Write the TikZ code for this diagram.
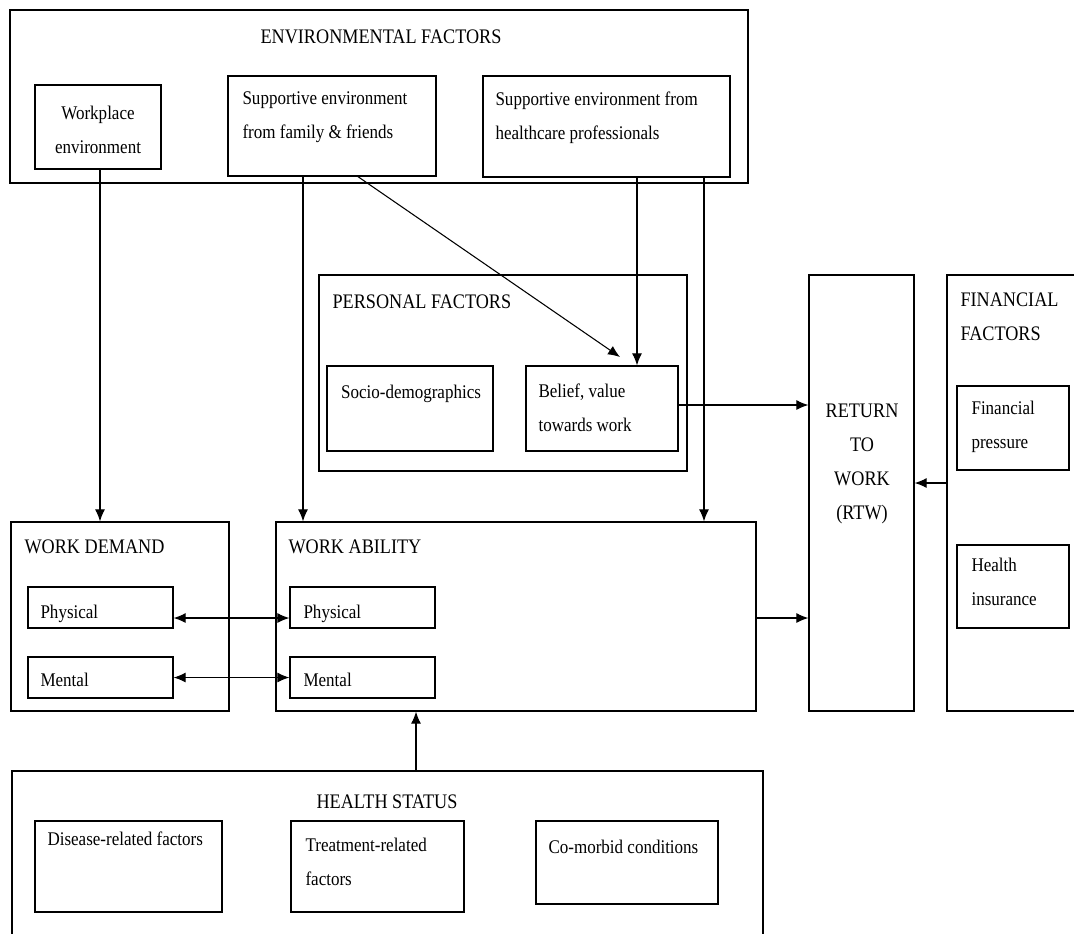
\documentclass[tikz,border=0pt]{standalone}
\usepackage{fontspec}
\setmainfont{Liberation Serif}[FakeStretch=0.88]
\usetikzlibrary{arrows.meta,fit}

\begin{document}
\begin{tikzpicture}[x=0.75pt,y=-0.75pt,
  >={Latex[length=9pt,width=7.5pt]},
  every path/.style={line width=0.8pt},
  box/.style={draw,line width=1pt,inner sep=0pt},
  txt/.style={inner sep=0pt,font=\fontsize{14.5}{25.5}\selectfont},
  ttl/.style={inner sep=0pt,font=\fontsize{15.5}{25.5}\selectfont}]
\useasboundingbox (0,0) rectangle (1074,933);

% environmental factors
\node[box,fit={(10,10) (748,183)}] (env) {};
\node[box,fit={(35,85) (161,169)}] (wpl) {};
\node[box,fit={(228,76) (436,176)}] (fam) {};
\node[box,fit={(483,76) (730,177)}] (hcp) {};
\node[ttl] (envt) at (381,37) {ENVIRONMENTAL FACTORS};
\node[txt,align=center] (wplt) at (98,130) {Workplace\\environment};
\node[txt,align=left,anchor=north west] (famt) at (242,91) {Supportive environment\\from family \& friends};
\node[txt,align=left,anchor=north west] (hcpt) at (495,91) {Supportive environment from\\healthcare professionals};

% personal factors
\node[box,fit={(319,275) (687,471)}] (pers) {};
\node[box,fit={(327,366) (493,451)}] (socio) {};
\node[box,fit={(526,366) (678,451)}] (belief) {};
\node[ttl,anchor=west] (perst) at (332,302) {PERSONAL FACTORS};
\node[txt,anchor=base] (sociot) at (411,398) {Socio-demographics};
\node[txt,align=left,anchor=north west] (belieft) at (538,383) {Belief, value\\towards work};

% return to work and financial factors
\node[box,fit={(809,275) (914,711)}] (rtw) {};
\node[ttl,align=center] (rtwt) at (862,464) {RETURN\\TO\\WORK\\(RTW)};
\node[box,fit={(947,275) (1090,711)}] (fin) {};
\node[box,fit={(957,386) (1069,470)}] (press) {};
\node[box,fit={(957,545) (1069,628)}] (insur) {};
\node[ttl,align=left,anchor=north west] (fint) at (960,292) {FINANCIAL\\FACTORS};
\node[txt,align=left,anchor=north west] (presst) at (971,401) {Financial\\pressure};
\node[txt,align=left,anchor=north west] (insurt) at (971,558) {Health\\insurance};

% work demand and work ability
\node[box,fit={(11,522) (229,711)}] (wd) {};
\node[box,fit={(28,587) (173,628)}] (wdphy) {};
\node[box,fit={(28,657) (173,698)}] (wdmen) {};
\node[ttl,anchor=west] (wdt) at (24,547) {WORK DEMAND};
\node[txt,anchor=base west] (wdphyt) at (40,618) {Physical};
\node[txt,anchor=base west] (wdment) at (40,686) {Mental};
\node[box,fit={(276,522) (756,711)}] (wa) {};
\node[box,fit={(290,587) (435,628)}] (waphy) {};
\node[box,fit={(290,657) (435,698)}] (wamen) {};
\node[ttl,anchor=west] (wat) at (288,547) {WORK ABILITY};
\node[txt,anchor=base west] (waphyt) at (303,618) {Physical};
\node[txt,anchor=base west] (wament) at (303,686) {Mental};

% health status
\node[box,fit={(12,771) (763,945)}] (hs) {};
\node[box,fit={(35,821) (222,912)}] (dis) {};
\node[box,fit={(291,821) (464,912)}] (treat) {};
\node[box,fit={(536,821) (718,904)}] (como) {};
\node[ttl] (hst) at (387,802) {HEALTH STATUS};
\node[txt,anchor=base west] (dist) at (47,845) {Disease-related factors};
\node[txt,align=left,anchor=north west] (treatt) at (305,838) {Treatment-related\\factors};
\node[txt,anchor=base west] (comot) at (548,853) {Co-morbid conditions};

% connectors
\coordinate (xa) at (100,0);
\coordinate (xb) at (303,0);
\coordinate (xc) at (358,0);
\coordinate (xd) at (637,0);
\coordinate (xe) at (704,0);
\coordinate (xf) at (416,0);
\coordinate (ya) at (0,405);
\coordinate (yb) at (0,618);
\coordinate (yc) at (0,483);
\coordinate (tip) at (620,357);
\draw[->] (wpl.south -| xa) -- (wd.north -| xa);
\draw[->] (fam.south -| xb) -- (wa.north -| xb);
\draw[->] (fam.south -| xc) -- (tip);
\draw[->] (hcp.south -| xd) -- (belief.north -| xd);
\draw[->] (hcp.south -| xe) -- (wa.north -| xe);
\draw[->] (belief.east |- ya) -- (rtw.west |- ya);
\draw[->] (wa.east |- yb) -- (rtw.west |- yb);
\draw[->] (fin.west |- yc) -- (rtw.east |- yc);
\draw[<->] (wdphy.east |- yb) -- (waphy.west |- yb);
\draw[<->] (wdmen.east) -- (wamen.west);
\draw[->] (hs.north -| xf) -- (wa.south -| xf);
\end{tikzpicture}
\end{document}
